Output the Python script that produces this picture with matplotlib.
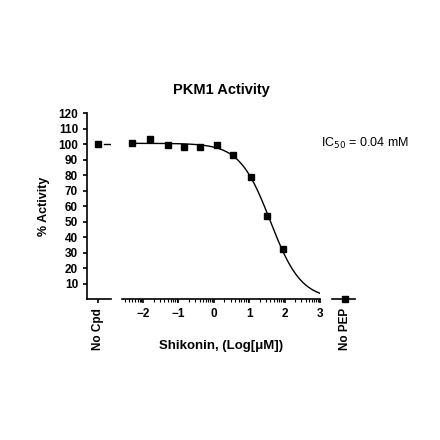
import numpy as np
import matplotlib.pyplot as plt

plt.rcParams['font.family'] = ['Liberation Sans', 'DejaVu Sans']

# data
log_conc = [-2.3, -1.8, -1.3, -0.85, -0.4, 0.1, 0.55, 1.05, 1.5, 1.95]
activity = [100.5, 103.5, 99.5, 98, 98, 99.5, 93, 79, 53.5, 32.5]
no_cpd = 100
no_pep = 0
# fitted curve parameters (4PL)
fit_top, fit_bottom, fit_logic50, fit_hill = 100.5, 0, 1.6, 1.0

fig = plt.figure(figsize=(4.4, 4.4), dpi=100)
bottom, height = 0.32, 0.423
ax_l = fig.add_axes([0.198, bottom, 0.054, height])
ax_m = fig.add_axes([0.277, bottom, 0.45, height], sharey=ax_l)
ax_r = fig.add_axes([0.755, bottom, 0.052, height], sharey=ax_l)

ms = 5
tick_kw = dict(labelsize=8.5, width=1.2, length=3)

# left segment: no compound control
ax_l.plot([0.46], [no_cpd], 's', color='k', ms=ms)
ax_l.plot([0.7, 1.0], [100, 100], color='k', lw=1)
ax_l.set_xlim(0, 1)
ax_l.set_ylim(0, 120)
ax_l.set_yticks(range(10, 121, 10))
ax_l.set_xticks([0.46])
ax_l.set_xticklabels(['No Cpd'], rotation=90, fontweight='bold', fontsize=9)
ax_l.spines[['top', 'right']].set_visible(False)
for s in ax_l.spines.values():
    s.set_linewidth(1.2)
ax_l.tick_params(**tick_kw)
for lab in ax_l.get_yticklabels():
    lab.set_fontweight('bold')
ax_l.set_ylabel('% Activity', fontweight='bold', fontsize=9, labelpad=6)

# middle segment: dose response
xs = np.linspace(-2.35, 3, 300)
ys = fit_bottom + (fit_top - fit_bottom) / (1 + 10 ** ((xs - fit_logic50) * fit_hill))
ax_m.plot(xs, ys, color='k', lw=1)
ax_m.plot(log_conc, activity, 's', color='k', ms=ms)
ax_m.set_xlim(-2.6, 3)
ax_m.set_xticks(range(-2, 4))
minor = [n + np.log10(k) for n in range(-3, 3) for k in range(2, 10)]
ax_m.set_xticks([m for m in minor if -2.6 <= m <= 3], minor=True)
ax_m.spines[['top', 'right', 'left']].set_visible(False)
ax_m.spines['bottom'].set_linewidth(1.2)
ax_m.tick_params(axis='y', left=False, labelleft=False)
ax_m.tick_params(axis='x', **tick_kw)
ax_m.tick_params(axis='x', which='minor', length=2, width=0.8)
for lab in ax_m.get_xticklabels():
    lab.set_fontweight('bold')
ax_m.set_xlabel('Shikonin, (Log[μM])', fontweight='bold', fontsize=9.5, labelpad=14)
ax_m.set_title('PKM1 Activity', fontweight='bold', fontsize=10.5, pad=14)

# right segment: no PEP control
ax_r.plot([0.56], [no_pep], 's', color='k', ms=ms, clip_on=False)
ax_r.set_xlim(0, 1)
ax_r.set_xticks([0.56])
ax_r.set_xticklabels(['No PEP'], rotation=90, fontweight='bold', fontsize=9)
ax_r.spines[['top', 'right', 'left']].set_visible(False)
ax_r.spines['bottom'].set_linewidth(1.2)
ax_r.tick_params(axis='y', left=False, labelleft=False)
ax_r.tick_params(axis='x', **tick_kw)

fig.text(0.93, 0.666, 'IC$_{50}$ = 0.04 mM', fontsize=9, ha='right')

fig.savefig('out.png', dpi=100, facecolor='white')
